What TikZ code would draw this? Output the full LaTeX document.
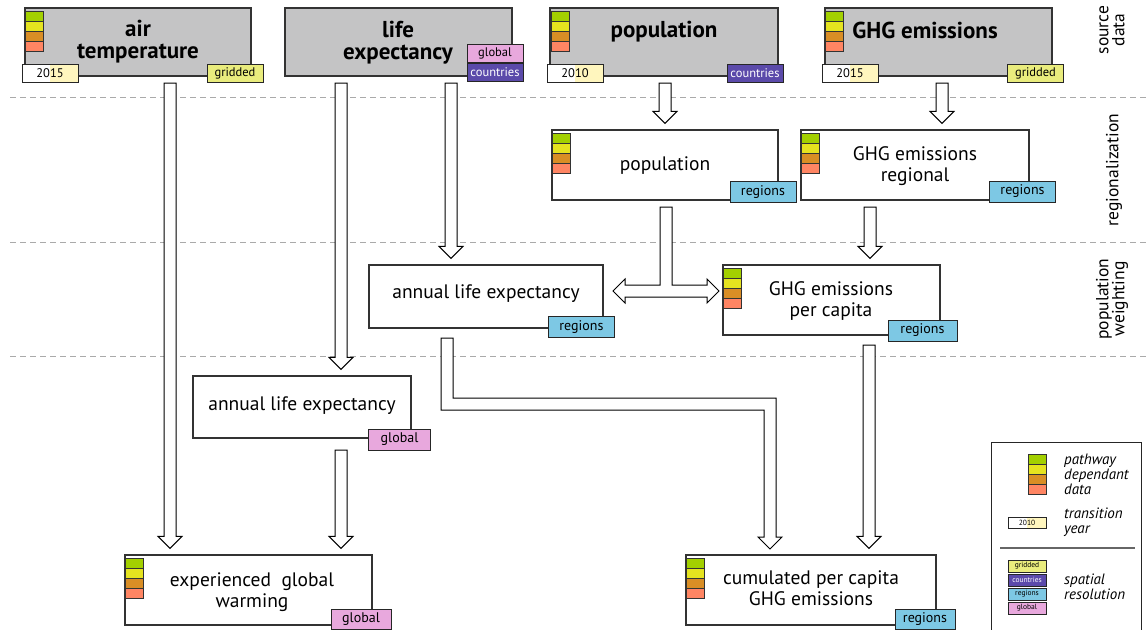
\documentclass[tikz,border=0pt]{standalone}
\usepackage{fontspec}
\setmainfont{PT Sans}
\usetikzlibrary{calc}
\definecolor{boxgray}{HTML}{C4C4C5}
\definecolor{cg}{HTML}{A3D000}
\definecolor{cy}{HTML}{E5E31F}
\definecolor{co}{HTML}{D98E25}
\definecolor{cs}{HTML}{FF8563}
\definecolor{tgrid}{HTML}{E9EC7D}
\definecolor{tcountry}{HTML}{5B4AAA}
\definecolor{tregion}{HTML}{7DC8E4}
\definecolor{tglobal}{HTML}{E8A8DD}
\definecolor{tyear}{HTML}{FFF6BE}
\definecolor{dashgray}{HTML}{AAAAAA}
\tikzset{
  srcbox/.style={draw=black!80, line width=1.2pt, fill=boxgray, inner sep=0pt},
  wbox/.style={draw=black!80, line width=1.2pt, fill=white, inner sep=0pt},
  hdr/.style={font=\bfseries\fontsize{23}{22}\selectfont, align=center, inner sep=0pt},
  body/.style={font=\fontsize{19.5}{21}\selectfont, align=center, inner sep=0pt},
  tag/.style={draw=black!85, line width=0.9pt, inner sep=0pt, font=\fontsize{12.5}{13}\selectfont, minimum width=56pt, minimum height=18pt},
  tgridded/.style={tag, fill=tgrid},
  tcountries/.style={tag, fill=tcountry, text=white},
  tregions/.style={tag, fill=tregion, minimum width=66pt, minimum height=21pt, font=\fontsize{14}{14}\selectfont},
  tglob/.style={tag, fill=tglobal, minimum width=62pt, minimum height=21pt, font=\fontsize{14}{14}\selectfont},
  tyr/.style={tag, fill=white, path picture={\fill[tyear] (path picture bounding box.south) rectangle (path picture bounding box.north east);}},
  stag/.style={draw=black!85, line width=0.7pt, inner sep=0pt, minimum width=38pt, minimum height=12pt, font=\fontsize{7.5}{8}\selectfont},
  side/.style={font=\fontsize{17.5}{16}\selectfont, align=center, rotate=90, inner sep=0pt},
  leg/.style={font=\itshape\fontsize{15}{15}\selectfont, align=left, anchor=west, inner sep=0pt},
  hollow/.style={draw=black, line width=1pt, fill=white, line join=miter},
  sep/.style={draw=dashgray, line width=1pt, dash pattern=on 6pt off 4pt},
  bars/.pic={\foreach \c [count=\i from 0] in {cg,cy,co,cs} \draw[fill=\c, draw=black!80, line width=0.8pt] (0,\i*10) rectangle ++(18,10);}
}
\newcommand\varr[2]{\draw[hollow] let \p1=(#1), \p2=(#1 |- #2) in (\x1-6pt,\y1) -- (\x1-6pt,\y2+18pt) -- (\x1-12pt,\y2+18pt) -- (\x1,\y2+6pt) -- (\x1+12pt,\y2+18pt) -- (\x1+6pt,\y2+18pt) -- (\x1+6pt,\y1) -- cycle;}
\begin{document}
\begin{tikzpicture}[x=1pt,y=-1pt]
\useasboundingbox (0,0) rectangle (1147,629);
% separators
\draw[sep] (10,97) -- (1147,97);
\draw[sep] (10,242) -- (1147,242);
\draw[sep] (10,356) -- (1147,356);
% side labels
\node[side] (sSrc) at (1112,30) {source\\data};
\node[side] (sReg) at (1114,170) {regionalization};
\node[side] (sWgt) at (1112,299) {population\\weighting};
% source boxes
\node[srcbox, minimum width=226pt, minimum height=68pt] (airT) at (138,42) {};
\node[srcbox, minimum width=227pt, minimum height=68pt] (lifeE) at (398.5,42) {};
\node[srcbox, minimum width=228pt, minimum height=68pt] (popS) at (664,42) {};
\node[srcbox, minimum width=227pt, minimum height=68pt] (ghgS) at (938.5,42) {};
\node[hdr] (tAir) at (138,42) {air\\temperature};
\node[hdr] (tLife) at (398,43) {life\\expectancy};
\node[hdr] (tPopS) at (664,32) {population};
\node[hdr] (tGhgS) at (925,30) {GHG emissions};
\pic at (25,11) {bars};
\pic at (551,11) {bars};
\pic at (825,11) {bars};
\node[tyr] (yAir) at (50,73) {2015};
\node[tgridded] (gAir) at (235,73) {gridded};
\node[tag, fill=tglobal] (glLife) at (495,53) {global};
\node[tcountries] (coLife) at (495,72) {countries};
\node[tyr] (yPop) at (575,73) {2010};
\node[tcountries] (coPop) at (755,73) {countries};
\node[tyr] (yGhg) at (850,73) {2015};
\node[tgridded] (gGhg) at (1035.5,73) {gridded};
% regionalization
\node[wbox, minimum width=226pt, minimum height=70pt] (popR) at (665,165) {};
\node[body] (tPopR) at (665,166) {population};
\pic at (552,133) {bars};
\node[tregions] (rPopR) at (763,192) {regions};
\node[wbox, minimum width=228pt, minimum height=70pt] (ghgR) at (915,165) {};
\node[body] (tGhgR) at (915,166) {GHG emissions\\regional};
\pic at (801,133) {bars};
\node[tregions] (rGhgR) at (1022.5,191.5) {regions};
% population weighting
\node[wbox, minimum width=234pt, minimum height=63pt] (aleR) at (486,296.5) {};
\node[body] (tAleR) at (486,294) {annual life expectancy};
\node[tregions] (rAleR) at (581.5,327) {regions};
\node[wbox, minimum width=217pt, minimum height=70pt] (ghgP) at (831.5,300) {};
\node[body] (tGhgP) at (831,301) {GHG emissions\\per capita};
\pic at (723,268) {bars};
\node[tregions, minimum width=69pt] (rGhgP) at (922.5,330.5) {regions};
% lower
\node[wbox, minimum width=218pt, minimum height=62pt] (aleG) at (302,407) {};
\node[body] (tAleG) at (302,406) {annual life expectancy};
\node[tglob] (gAleG) at (399.5,439.5) {global};
\node[wbox, minimum width=247pt, minimum height=70pt] (expW) at (248.5,590) {};
\node[body] (tExpW) at (252,592) {experienced~~global\\warming};
\pic at (125,558) {bars};
\node[tglob, minimum width=60pt, minimum height=20pt] (gExpW) at (361,619.5) {global};
\node[wbox, minimum width=250pt, minimum height=70pt] (cumG) at (811,590) {};
\node[body] (tCumG) at (811,588) {cumulated per capita\\GHG emissions};
\pic at (686,558) {bars};
\node[tregions, minimum width=60pt, minimum height=20pt] (rCumG) at (925,619.5) {regions};
% arrows
\coordinate (a1) at (170,83);
\coordinate (a2) at (341,83);
\coordinate (a3) at (451,83);
\coordinate (a4) at (665,83);
\coordinate (a5) at (942,83);
\coordinate (a6) at (870,207);
\coordinate (a7) at (341,450);
\coordinate (a8) at (869,345);
\varr{a1}{expW.north}
\varr{a2}{aleG.north}
\varr{a3}{aleR.north}
\varr{a4}{popR.north}
\varr{a5}{ghgR.north}
\varr{a6}{ghgP.north}
\varr{a7}{expW.north}
\varr{a8}{cumG.north}
% split arrow from population to both sides
\draw[hollow] (660,207) -- (660,285) -- (625,285) -- (625,279) -- (613,291) -- (625,303) -- (625,297) -- (707,297) -- (707,303) -- (719,291) -- (707,279) -- (707,285) -- (672,285) -- (672,207) -- cycle;
% elbow arrow
\draw[hollow] (441,338) -- (441,410) -- (764,410) -- (764,537) -- (758,537) -- (770,549) -- (782,537) -- (776,537) -- (776,398) -- (453,398) -- (453,338) -- cycle;
% legend
\draw[draw=black!85, line width=1pt] (991,442) rectangle (1141,640);
\pic at (1028,454) {bars};
\node[leg] (lPath) at (1064,474) {pathway\\dependant\\data};
\node[stag, path picture={\fill[tyear] (path picture bounding box.south) rectangle (path picture bounding box.north east);}, minimum height=11pt] (lYear) at (1027,522.5) {2010};
\node[leg] (lTrans) at (1064,522) {transition\\year};
\draw[draw=black!60, line width=1.5pt] (1000,548) -- (1135,548);
\node[stag, fill=tgrid] (lg1) at (1027,566) {gridded};
\node[stag, fill=tcountry, text=white] (lg2) at (1027,580) {countries};
\node[stag, fill=tregion] (lg3) at (1027,594) {regions};
\node[stag, fill=tglobal] (lg4) at (1027,608) {global};
\node[leg] (lSpat) at (1064,587) {spatial\\resolution};
\end{tikzpicture}
\end{document}
